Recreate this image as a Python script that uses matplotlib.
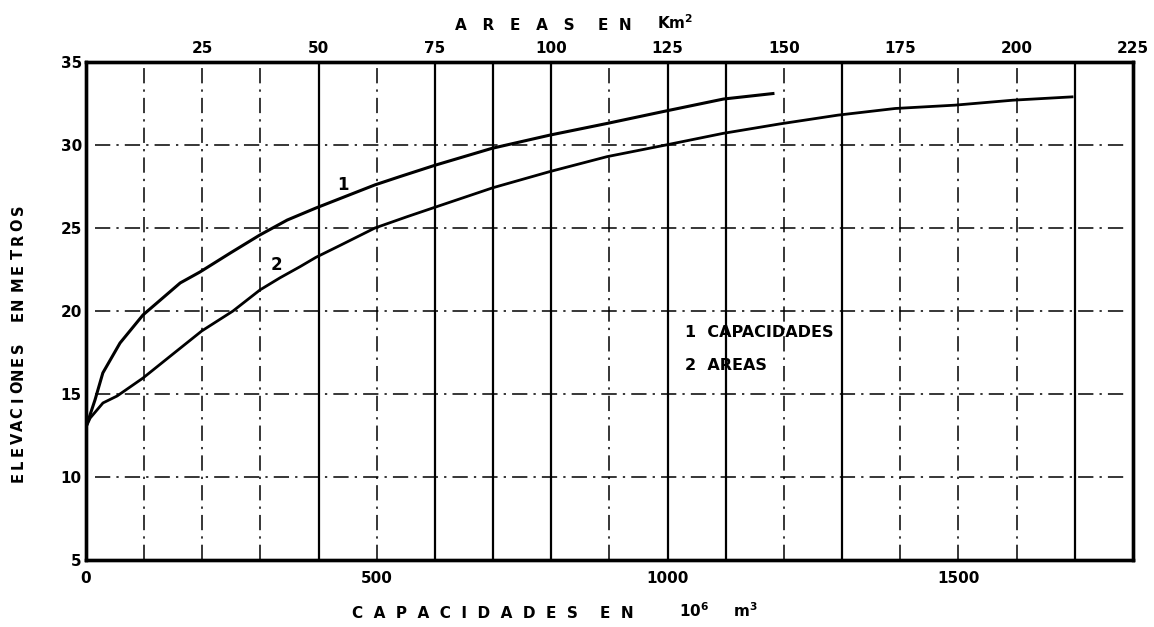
import matplotlib
matplotlib.use("Agg")
import matplotlib.pyplot as plt
from matplotlib.ticker import FixedLocator

# Curve 1: storage capacity (10^6 m3) vs elevation (m)
cap_values = [0, 15.5, 29, 58.5, 98, 162, 196, 248, 299, 346, 395, 497, 540, 600, 698, 798, 896,
              997, 1096, 1181]
cap_elev = [13.0, 14.64, 16.27, 18.07, 19.76, 21.69, 22.35, 23.49, 24.58, 25.48, 26.2, 27.6, 28.1,
            28.78, 29.8, 30.6, 31.3, 32.05, 32.77, 33.1]

# Curve 2: flooded area (km2) vs elevation (m)
area_values = [0, 0.9, 3.65, 6.7, 12.25, 18.7, 24.9, 31.6, 37.4, 41.7, 46.0, 49.4, 54.6, 62.1, 69.0,
               75.0, 87.5, 99.7, 112.0, 124.6, 136.9, 149.1, 161.6, 173.9, 186.7, 199.2, 211.9]
area_elev = [13.0, 13.55, 14.46, 14.88, 15.96, 17.41, 18.8, 20.0, 21.27, 22.0, 22.67, 23.23, 23.95,
             25.0, 25.68, 26.25, 27.43, 28.4, 29.3, 30.0, 30.7, 31.27, 31.8, 32.2, 32.4, 32.7, 32.9]

elev_ticks = [5, 10, 15, 20, 25, 30, 35]
cap_ticks = [0, 500, 1000, 1500]
area_ticks = [25, 50, 75, 100, 125, 150, 175, 200, 225]

# grid lines (capacity scale, every 100) and which ones are drawn solid
v_grid = list(range(100, 1800, 100))
v_solid = {400, 600, 700, 800, 1000, 1100, 1300, 1700}
h_grid = [10, 15, 20, 25, 30]

plt.rcParams['font.family'] = ['DejaVu Sans']
plt.rcParams['font.weight'] = 'bold'

W, H = 1154.0, 627.0
fig = plt.figure(figsize=(W / 100, H / 100), dpi=100)
ax = fig.add_axes([0.0745, 0.1069, 0.9073, 0.7942])
ax.set_xlim(0, 1800)
ax.set_ylim(5, 35)

dashdot = (0, (10, 4, 1.5, 4))
for xv in v_grid:
    ax.axvline(xv, color='black', lw=1.6 if xv in v_solid else 1.1,
               ls='-' if xv in v_solid else dashdot, zorder=1)
for yv in h_grid:
    ax.plot([15, 1790], [yv, yv], color='black', lw=1.1, ls=dashdot, zorder=1)

ax.plot(cap_values, cap_elev, color='black', lw=2.2, zorder=3, solid_joinstyle='round')

ax2 = ax.twiny()
ax2.set_xlim(0, 225)
ax2.plot(area_values, area_elev, color='black', lw=2.0, zorder=3, solid_joinstyle='round')

for a in (ax, ax2):
    for s in a.spines.values():
        s.set_linewidth(2.4)

ax.xaxis.set_major_locator(FixedLocator(cap_ticks))
ax.yaxis.set_major_locator(FixedLocator(elev_ticks))
ax2.xaxis.set_major_locator(FixedLocator(area_ticks))
ax.tick_params(axis='both', length=0, labelsize=11, width=0)
ax.tick_params(axis='x', pad=8)
ax.tick_params(axis='y', pad=3)
ax2.tick_params(axis='x', length=0, labelsize=11, pad=4)

lab = dict(fontsize=11, fontweight='bold', ha='center', va='center')

# bottom axis title
yb = 1 - 613 / H
fig.text(465 / W, yb, 'C  A  P  A  C  I  D  A  D  E  S', **lab)
fig.text(617 / W, yb, 'E  N', **lab)
fig.text(694 / W, yb + 0.004, '10$^{\\mathbf{6}}$', **lab)
fig.text(745 / W, yb + 0.004, 'm$^{\\mathbf{3}}$', **lab)

# top axis title
yt = 1 - 25 / H
fig.text(515 / W, yt, 'A   R   E   A   S', **lab)
fig.text(615 / W, yt, 'E  N', **lab)
fig.text(675 / W, yt + 0.004, 'Km$^{\\mathbf{2}}$', **lab)


def vertical_word(word, x_px, y_bottom_px, y_top_px):
    """Write a rotated word letter by letter, evenly spread between two heights."""
    n = len(word)
    for i, ch in enumerate(word):
        yy = y_bottom_px + (y_top_px - y_bottom_px) * (i / (n - 1) if n > 1 else 0)
        fig.text(x_px / W, 1 - yy / H, ch, rotation=90, fontsize=10.5,
                 fontweight='bold', ha='center', va='center')


# left axis title
vertical_word('ELEVACIONES', 18, 477, 348)
vertical_word('EN', 18, 316, 304)
vertical_word('METROS', 18, 284, 210)

ax.text(442, 27.6, '1', fontsize=12, fontweight='bold', ha='center', va='center')
ax.text(328, 22.8, '2', fontsize=12, fontweight='bold', ha='center', va='center')
ax.text(1030, 18.7, '1  CAPACIDADES', fontsize=11.5, fontweight='bold', ha='left', va='center')
ax.text(1030, 16.7, '2  AREAS', fontsize=11.5, fontweight='bold', ha='left', va='center')

fig.savefig('out.png', dpi=100)
